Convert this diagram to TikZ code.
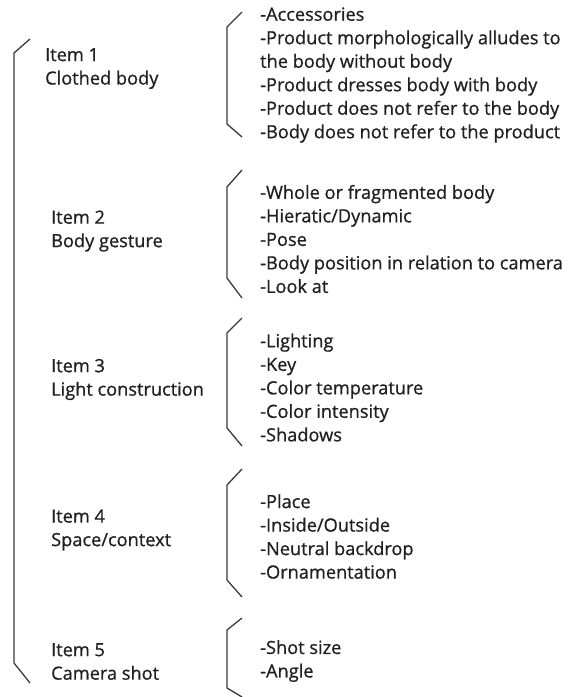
\documentclass[tikz,border=0pt]{standalone}
\usepackage{fontspec}
\setmainfont{Open Sans}[RawFeature={embolden=0.8}]
\definecolor{ink}{HTML}{231F20}
\definecolor{brk}{HTML}{3A3A3A}
\begin{document}
\begin{tikzpicture}[x=1pt,y=-1pt,
  txt/.style={anchor=west,inner sep=0pt,align=left,text=ink,
    font=\fontsize{18.2}{23.5}\selectfont},
  bracket/.style={draw=brk,line width=1.3pt,line join=miter}]
\useasboundingbox (0,0) rectangle (569,697);
% big bracket
\draw[bracket] (30,39) -- (14,53) -- (14,663) -- (30,683);
% sub brackets
\draw[bracket] (242,12) -- (227,27) -- (227,124) -- (242,137);
\draw[bracket] (242,170) -- (227,187) -- (227,278) -- (242,298);
\draw[bracket] (242,318) -- (227,333) -- (227,428) -- (242,446);
\draw[bracket] (242,469) -- (227,485) -- (227,580) -- (242,597);
\draw[bracket] (242,618) -- (227,630) -- (227,688) -- (242,697);
% left labels
\node[txt] (i1) at (45,68.5) {Item 1\\Clothed body};
\node[txt] (i2) at (51,231) {Item 2\\Body gesture};
\node[txt] (i3) at (51,379.5) {Item 3\\Light construction};
\node[txt] (i4) at (51,530) {Item 4\\Space/context};
\node[txt] (i5) at (51,661.5) {Item 5\\Camera shot};
% right lists
\node[txt] (l1) at (260,75) {-Accessories\\-Product morphologically alludes to\\the body without body\\-Product dresses body with body\\-Product does not refer to the body\\-Body does not refer to the product};
\node[txt] (l2) at (260,239) {-Whole or fragmented body\\-Hieratic/Dynamic\\-Pose\\-Body position in relation to camera\\-Look at};
\node[txt] (l3) at (260,387.5) {-Lighting\\-Key\\-Color temperature\\-Color intensity\\-Shadows};
\node[txt] (l4) at (260,536.5) {-Place\\-Inside/Outside\\-Neutral backdrop\\-Ornamentation};
\node[txt] (l5) at (260,661) {-Shot size\\-Angle};
\end{tikzpicture}
\end{document}
